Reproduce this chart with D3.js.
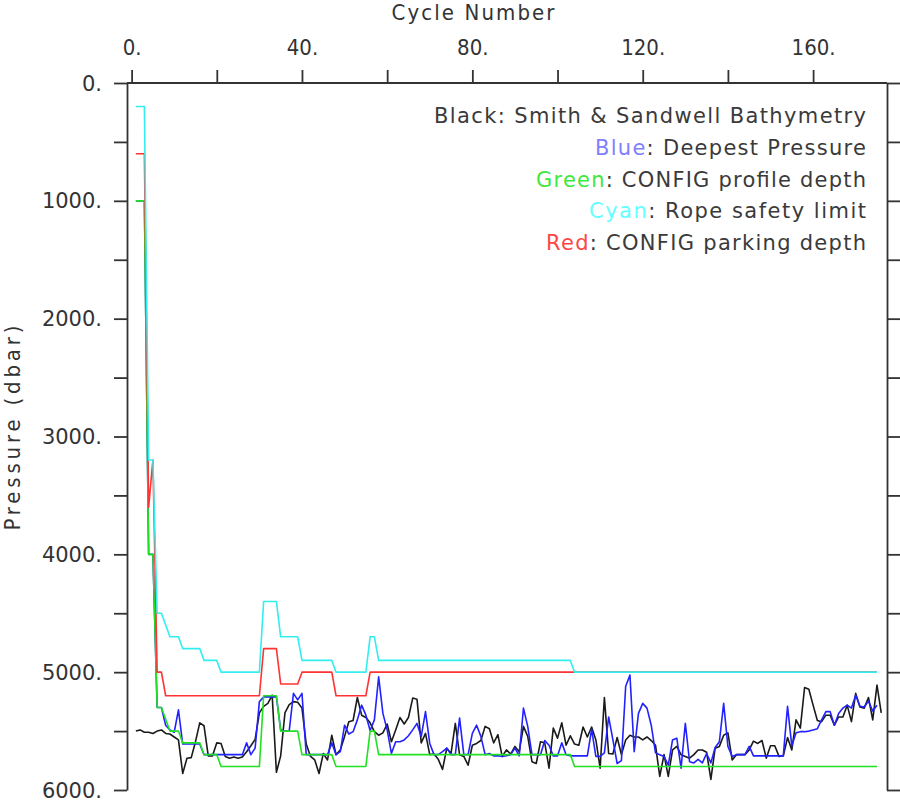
<!DOCTYPE html>
<html>
<head>
<meta charset="utf-8">
<script src="https://cdn.jsdelivr.net/npm/d3@7"></script>
<style>
  html, body { margin: 0; padding: 0; background: #fff; }
  svg { display: block; }
</style>
</head>
<body>
<svg id="chart" width="900" height="800"></svg>
<script>
// ---------------- data ----------------
const xTickValues = [0, 20, 40, 60, 80, 100, 120, 140, 160];
const xTickLabels = ["0.", "", "40.", "", "80.", "", "120.", "", "160."];
const yTickValues = [0, 500, 1000, 1500, 2000, 2500, 3000, 3500, 4000, 4500, 5000, 5500, 6000];
const yTickLabels = ["0.", "", "1000.", "", "2000.", "", "3000.", "", "4000.", "", "5000.", "", "6000."];

// Black: Smith & Sandwell bathymetry, cycles 1..176
const bathymetry = [
  5500, 5490, 5510, 5510, 5520, 5500, 5490, 5520, 5525, 5550,
  5575, 5860, 5730, 5725, 5590, 5430, 5455, 5710, 5710, 5600,
  5605, 5715, 5730, 5720, 5730, 5720, 5675, 5625, 5570, 5345,
  5290, 5265, 5195, 5850, 5710, 5345, 5275, 5250, 5255, 5305,
  5610, 5715, 5745, 5860, 5690, 5745, 5535, 5700, 5660, 5545,
  5420, 5410, 5215, 5365, 5385, 5430, 5505, 5535, 5515, 5440,
  5590, 5490, 5385, 5440, 5385, 5220, 5230, 5600, 5520, 5700,
  5695, 5740, 5825, 5645, 5690, 5435, 5700, 5715, 5790, 5620,
  5605, 5580, 5460, 5480, 5600, 5530, 5715, 5660, 5695, 5630,
  5675, 5460, 5545, 5760, 5775, 5590, 5600, 5815, 5475, 5560,
  5430, 5620, 5540, 5610, 5620, 5465, 5550, 5465, 5575, 5815,
  5215, 5690, 5695, 5555, 5700, 5575, 5535, 5550, 5550, 5575,
  5550, 5580, 5620, 5885, 5700, 5885, 5660, 5630, 5700, 5715,
  5730, 5700, 5660, 5660, 5680, 5910, 5645, 5630, 5535, 5515,
  5745, 5700, 5700, 5700, 5660, 5585, 5605, 5580, 5730, 5625,
  5625, 5715, 5710, 5555, 5660, 5405, 5475, 5130, 5145, 5280,
  5410, 5420, 5365, 5365, 5450, 5380, 5380, 5280, 5420, 5180,
  5295, 5305, 5215, 5405, 5110, 5345
];

// Blue: deepest pressure, cycles 1..175
const deepestPressure = [
  1000, 1000, 1000, 4000, 4000, 5300, 5300, 5450, 5490, 5510,
  5320, 5610, 5610, 5610, 5610, 5610, 5700, 5700, 5700, 5700,
  5700, 5700, 5700, 5700, 5700, 5700, 5600, 5700, 5645, 5250,
  5210, 5210, 5210, 5210, 5490, 5500, 5500, 5180, 5235, 5180,
  5700, 5700, 5700, 5700, 5700, 5700, 5600, 5700, 5675, 5450,
  5525, 5505, 5405, 5280, 5365, 5495, 5405, 5040, 5350, 5490,
  5690, 5590, 5590, 5575, 5540, 5490, 5435, 5545, 5335, 5605,
  5700, 5700, 5675, 5645, 5700, 5700, 5390, 5700, 5700, 5520,
  5450, 5545, 5700, 5690, 5710, 5710, 5715, 5710, 5700, 5645,
  5710, 5305, 5460, 5700, 5700, 5700, 5580, 5620, 5710, 5710,
  5600, 5700, 5710, 5710, 5710, 5710, 5710, 5485, 5715, 5715,
  5685, 5380, 5575, 5775, 5750, 5120, 5025, 5675, 5350, 5265,
  5305, 5450, 5685, 5700, 5715, 5790, 5575, 5560, 5815, 5435,
  5760, 5770, 5740, 5770, 5690, 5770, 5640, 5590, 5265, 5630,
  5715, 5700, 5700, 5700, 5630, 5710, 5710, 5710, 5710, 5710,
  5710, 5710, 5710, 5290, 5625, 5515, 5505, 5505, 5500, 5490,
  5480, 5405, 5335, 5335, 5450, 5350, 5305, 5280, 5305, 5195,
  5290, 5295, 5245, 5330, 5280
];

// Green: CONFIG profile depth, cycles 1..175
const profileDepth = [
  1000, 1000, 1000, 4000, 4000, 5300, 5300, 5400, 5500, 5500,
  5500, 5600, 5600, 5600, 5600, 5600, 5700, 5700, 5700, 5700,
  5800, 5800, 5800, 5800, 5800, 5800, 5800, 5800, 5800, 5800,
  5200, 5200, 5200, 5200, 5500, 5500, 5500, 5500, 5500, 5700,
  5700, 5700, 5700, 5700, 5700, 5700, 5700, 5800, 5800, 5800,
  5800, 5800, 5800, 5800, 5800, 5500, 5500, 5700, 5700, 5700,
  5700, 5700, 5700, 5700, 5700, 5700, 5700, 5700, 5700, 5700,
  5700, 5700, 5700, 5700, 5700, 5700, 5700, 5700, 5700, 5700,
  5700, 5700, 5700, 5700, 5700, 5700, 5700, 5700, 5700, 5700,
  5700, 5700, 5700, 5700, 5700, 5700, 5700, 5700, 5700, 5700,
  5700, 5700, 5700, 5800, 5800, 5800, 5800, 5800, 5800, 5800,
  5800, 5800, 5800, 5800, 5800, 5800, 5800, 5800, 5800, 5800,
  5800, 5800, 5800, 5800, 5800, 5800, 5800, 5800, 5800, 5800,
  5800, 5800, 5800, 5800, 5800, 5800, 5800, 5800, 5800, 5800,
  5800, 5800, 5800, 5800, 5800, 5800, 5800, 5800, 5800, 5800,
  5800, 5800, 5800, 5800, 5800, 5800, 5800, 5800, 5800, 5800,
  5800, 5800, 5800, 5800, 5800, 5800, 5800, 5800, 5800, 5800,
  5800, 5800, 5800, 5800, 5800
];

// Cyan: rope safety limit, cycles 1..175
const ropeLimit = [
  200, 200, 200, 3200, 3200, 4500, 4500, 4600, 4700, 4700,
  4700, 4800, 4800, 4800, 4800, 4800, 4900, 4900, 4900, 4900,
  5000, 5000, 5000, 5000, 5000, 5000, 5000, 5000, 5000, 5000,
  4400, 4400, 4400, 4400, 4700, 4700, 4700, 4700, 4700, 4900,
  4900, 4900, 4900, 4900, 4900, 4900, 4900, 5000, 5000, 5000,
  5000, 5000, 5000, 5000, 5000, 4700, 4700, 4900, 4900, 4900,
  4900, 4900, 4900, 4900, 4900, 4900, 4900, 4900, 4900, 4900,
  4900, 4900, 4900, 4900, 4900, 4900, 4900, 4900, 4900, 4900,
  4900, 4900, 4900, 4900, 4900, 4900, 4900, 4900, 4900, 4900,
  4900, 4900, 4900, 4900, 4900, 4900, 4900, 4900, 4900, 4900,
  4900, 4900, 4900, 5000, 5000, 5000, 5000, 5000, 5000, 5000,
  5000, 5000, 5000, 5000, 5000, 5000, 5000, 5000, 5000, 5000,
  5000, 5000, 5000, 5000, 5000, 5000, 5000, 5000, 5000, 5000,
  5000, 5000, 5000, 5000, 5000, 5000, 5000, 5000, 5000, 5000,
  5000, 5000, 5000, 5000, 5000, 5000, 5000, 5000, 5000, 5000,
  5000, 5000, 5000, 5000, 5000, 5000, 5000, 5000, 5000, 5000,
  5000, 5000, 5000, 5000, 5000, 5000, 5000, 5000, 5000, 5000,
  5000, 5000, 5000, 5000, 5000
];

// Red: CONFIG parking depth, cycles 1..175
const parkingDepth = [
  600, 600, 600, 3600, 3200, 5000, 5000, 5200, 5200, 5200,
  5200, 5200, 5200, 5200, 5200, 5200, 5200, 5200, 5200, 5200,
  5200, 5200, 5200, 5200, 5200, 5200, 5200, 5200, 5200, 5200,
  4800, 4800, 4800, 4800, 5100, 5100, 5100, 5100, 5100, 5000,
  5000, 5000, 5000, 5000, 5000, 5000, 5000, 5200, 5200, 5200,
  5200, 5200, 5200, 5200, 5200, 5000, 5000, 5000, 5000, 5000,
  5000, 5000, 5000, 5000, 5000, 5000, 5000, 5000, 5000, 5000,
  5000, 5000, 5000, 5000, 5000, 5000, 5000, 5000, 5000, 5000,
  5000, 5000, 5000, 5000, 5000, 5000, 5000, 5000, 5000, 5000,
  5000, 5000, 5000, 5000, 5000, 5000, 5000, 5000, 5000, 5000,
  5000, 5000, 5000, 5000, 5000, 5000, 5000, 5000, 5000, 5000,
  5000, 5000, 5000, 5000, 5000, 5000, 5000, 5000, 5000, 5000,
  5000, 5000, 5000, 5000, 5000, 5000, 5000, 5000, 5000, 5000,
  5000, 5000, 5000, 5000, 5000, 5000, 5000, 5000, 5000, 5000,
  5000, 5000, 5000, 5000, 5000, 5000, 5000, 5000, 5000, 5000,
  5000, 5000, 5000, 5000, 5000, 5000, 5000, 5000, 5000, 5000,
  5000, 5000, 5000, 5000, 5000, 5000, 5000, 5000, 5000, 5000,
  5000, 5000, 5000, 5000, 5000
];

const seriesNames = ["bathymetry", "deepest", "profile", "parking", "rope"];
const seriesColors = ["#1a1a1a", "#2222ff", "#22e022", "#ff3333", "#33eeee"];

const legendKeys = ["Black", "Blue", "Green", "Cyan", "Red"];
const legendKeyColors = ["#3a3a3a", "#7f7fff", "#3fe83f", "#66ffff", "#ff4646"];
const legendTexts = [": Smith & Sandwell Bathymetry", ": Deepest Pressure", ": CONFIG profile depth", ": Rope safety limit", ": CONFIG parking depth"];

// ---------------- chart ----------------
const svg = d3.select("#chart");
const L = 127, R = 887, T = 83, B = 790;

const x = d3.scaleLinear().domain([-1.08, 177.35]).range([L, R]);
const y = d3.scaleLinear().domain([0, 6000]).range([T, B]);

const axisColor = "#333";
const sans = "'DejaVu Sans', 'Open Sans', sans-serif";
const narrow = "'Liberation Sans Narrow', 'DejaVu Sans Condensed', 'Roboto Condensed', 'Liberation Sans', sans-serif";

// lines
const line = d3.line().x(d => x(d[0])).y(d => y(d[1]));
const toPts = arr => arr.map((v, i) => [i + 1, v]);
const allSeries = [bathymetry, deepestPressure, profileDepth, parkingDepth, ropeLimit];

const plot = svg.append("g");
allSeries.forEach((arr, k) => {
  plot.append("path")
    .datum(toPts(arr))
    .attr("class", "series-" + seriesNames[k])
    .attr("fill", "none")
    .attr("stroke", seriesColors[k])
    .attr("stroke-width", 1.6)
    .attr("stroke-linejoin", "round")
    .attr("d", line);
});

// top axis
const gx = svg.append("g").attr("transform", `translate(0,${T})`)
  .call(d3.axisTop(x).tickValues(xTickValues)
    .tickFormat((d, i) => xTickLabels[i])
    .tickSize(13).tickSizeOuter(0).tickPadding(15));
// left axis
const gyl = svg.append("g").attr("transform", `translate(${L},0)`)
  .call(d3.axisLeft(y).tickValues(yTickValues)
    .tickFormat((d, i) => yTickLabels[i])
    .tickSize(13).tickSizeOuter(0).tickPadding(12));
// right axis
const gyr = svg.append("g").attr("transform", `translate(${R},0)`)
  .call(d3.axisRight(y).tickValues(yTickValues)
    .tickFormat("").tickSize(13).tickSizeOuter(0));

[gx, gyl, gyr].forEach(g => {
  g.selectAll("path.domain").attr("stroke", axisColor).attr("stroke-width", 1.8);
  g.selectAll(".tick line").attr("stroke", axisColor).attr("stroke-width", 1.8);
});
gx.select("path.domain").attr("d", `M${L},0H${R}`);

gx.selectAll(".tick text")
  .attr("font-family", narrow).attr("font-size", 22).attr("fill", "#333");
gyl.selectAll(".tick text")
  .attr("font-family", sans).attr("font-size", 21).attr("fill", "#333")
  .attr("dy", "0.34em");

// axis titles
svg.append("text")
  .attr("x", 473).attr("y", 20)
  .attr("text-anchor", "middle")
  .attr("font-family", narrow).attr("font-size", 22).attr("fill", "#333")
  .attr("textLength", 163).attr("lengthAdjust", "spacing")
  .text("Cycle Number");

svg.append("text")
  .attr("transform", "translate(20,428) rotate(-90)")
  .attr("text-anchor", "middle")
  .attr("font-family", narrow).attr("font-size", 22).attr("fill", "#333")
  .attr("textLength", 205).attr("lengthAdjust", "spacing")
  .text("Pressure (dbar)");

// legend (right aligned text lines)
const legendY = [123, 155, 187, 218, 250];
const legendW = [432, 271, 330, 277, 320];
legendKeys.forEach((k, i) => {
  const t = svg.append("text")
    .attr("x", 866).attr("y", legendY[i])
    .attr("text-anchor", "end")
    .attr("font-family", sans).attr("font-size", 21)
    .attr("fill", "#3a3a3a")
    .attr("textLength", legendW[i]).attr("lengthAdjust", "spacing");
  t.append("tspan").attr("fill", legendKeyColors[i]).text(k);
  t.append("tspan").text(legendTexts[i]);
});
</script>
</body>
</html>
